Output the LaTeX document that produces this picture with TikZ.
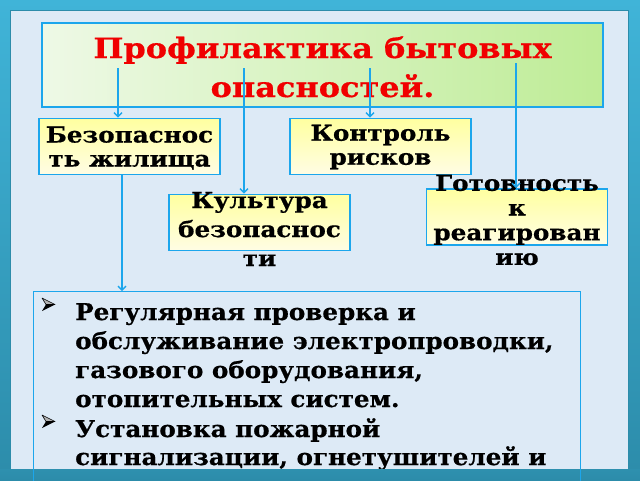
\documentclass[tikz,border=0pt]{standalone}
\usepackage{fontspec}
\setmainfont{DejaVu Serif}
\newfontfamily\titlefont{DejaVu Serif}[FakeStretch=1.14,FakeBold=0.6]
\newfontfamily\boxfont{DejaVu Serif}[FakeStretch=1.12,FakeBold=0.6]
\newfontfamily\listfont{DejaVu Serif}[FakeStretch=1.07,FakeBold=0.6]
\usetikzlibrary{arrows.meta,calc}
\definecolor{framec}{RGB}{64,180,216}
\definecolor{framed}{RGB}{44,140,170}
\definecolor{bgc}{RGB}{221,234,246}
\definecolor{linec}{RGB}{28,166,236}
\definecolor{titlered}{RGB}{240,0,0}
\tikzset{
  arr/.style={draw=linec, line width=1.4pt, -{Straight Barb[length=4pt,width=8pt]}},
  titlebox/.style={draw=linec, line width=2.6pt, left color={rgb,255:red,238;green,249;blue,230}, right color={rgb,255:red,190;green,236;blue,150}, minimum width=561pt, minimum height=84pt, inner sep=0pt},
  smallbox/.style={draw=linec, line width=1.6pt, top color={rgb,255:red,255;green,255;blue,160}, bottom color={rgb,255:red,255;green,253;blue,228}, minimum width=181pt, minimum height=56pt, inner sep=0pt},
  titletext/.style={text=titlered, font=\fontsize{28}{39}\titlefont\bfseries, inner sep=0pt},
  boxtext/.style={text=black, align=center, inner sep=0pt},
  listtext/.style={text=black, font=\fontsize{23}{29}\listfont\bfseries, inner sep=0pt, anchor=base west},
  listbox/.style={draw=linec, line width=1.4pt, minimum width=547pt, minimum height=220pt, inner sep=0pt, anchor=north west},
  pics/arrowbullet/.style={code={
    \filldraw[draw=black, fill=black!30, line width=0.6pt, line join=round] (0,0) -- (13,6.5) -- (4,6.5) -- cycle;
    \fill[black] (4,6.5) -- (13,6.5) -- (0,13) -- cycle;
  }}
}
\begin{document}
\begin{tikzpicture}[x=1pt,y=-1pt]
\useasboundingbox (0,0) rectangle (640,480);
\begin{scope}
\clip (0,0) rectangle (640,480);
% frame
\shade[top color=framec, bottom color=framed] (0,0) rectangle (640,480);
\fill[bgc] (10,10) rectangle (628,469);
\draw[framed, line width=1pt] (10,10) rectangle (628,469);
% title
\node[titlebox] (title) at (322.5,65) {};
\node[titletext, anchor=base] (t1) at (322.5,58) {Профилактика бытовых};
\node[titletext, anchor=base] (t2) at (322.5,97) {опасностей.};
% boxes
\node[smallbox] (b1) at (129.5,146.5) {};
\node[smallbox] (b2) at (380.5,146.5) {};
\node[smallbox] (b3) at (259.5,222.5) {};
\node[smallbox] (b4) at (517,217) {};
\node[boxtext, font=\fontsize{22}{24}\boxfont\bfseries] (b1t) at (129.5,148) {Безопаснос\\ть жилища};
\node[boxtext, font=\fontsize{22}{24}\boxfont\bfseries] (b2t) at (380.5,147) {Контроль\\рисков};
\node[boxtext, font=\fontsize{22}{29}\boxfont\bfseries] (b3t) at (259.5,229) {Культура\\безопаснос\\ти};
\node[boxtext, font=\fontsize{22}{24.7}\boxfont\bfseries] (b4t) at (517,220) {Готовность\\к\\реагирован\\ию};
% list
\pic at (42,298) {arrowbullet};
\node[listtext] (l1) at (75,320) {Регулярная проверка и};
\node[listtext] (l2) at (75,349) {обслуживание электропроводки,};
\node[listtext] (l3) at (75,378) {газового оборудования,};
\node[listtext] (l4) at (75,407) {отопительных систем.};
\pic at (42,415) {arrowbullet};
\node[listtext] (l5) at (75,437) {Установка пожарной};
\node[listtext] (l6) at (75,465) {сигнализации, огнетушителей и};
\shade[top color=framed!90!framec, bottom color=framed] (0,469) rectangle (640,480);
\node[listbox] (list) at (33,291) {};
% connectors
\coordinate (a1) at (118,68);
\coordinate (a2) at (244,68);
\coordinate (a3) at (370,68);
\coordinate (a4) at (516,63);
\coordinate (c1) at (122,175);
\draw[arr] (a1) -- (a1 |- b1.north);
\draw[arr] (a2) -- (a2 |- b3.north);
\draw[arr] (a3) -- (a3 |- b2.north);
\draw[arr] (a4) -- (a4 |- b4.north);
\draw[arr] (c1) -- (c1 |- list.north);
\end{scope}
\end{tikzpicture}
\end{document}
